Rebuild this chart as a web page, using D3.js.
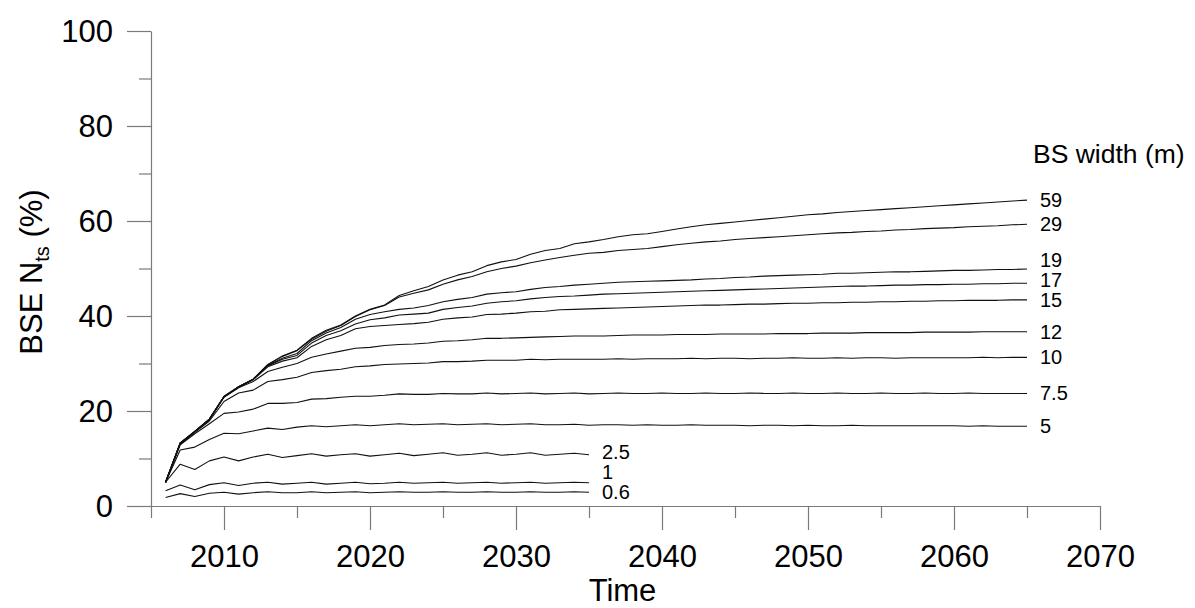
<!DOCTYPE html>
<html>
<head>
<meta charset="utf-8">
<script src="https://cdn.jsdelivr.net/npm/d3@7"></script>
<style>
  html, body { margin: 0; padding: 0; background: #fff; }
  svg { display: block; font-family: Arial, "Liberation Sans", sans-serif; }
</style>
</head>
<body>
<svg id="chart" width="1195" height="608"></svg>
<script>
// ---- data ----
const longYears = d3.range(2006, 2066);   // 2006..2065
const shortYears = d3.range(2006, 2036);  // 2006..2035

const s59 = [5.0, 13.3, 15.7, 18.3, 23.1, 25.1, 26.7, 29.8, 31.6, 32.8,
  35.3, 37.0, 38.1, 40.0, 41.4, 42.3, 44.3, 45.3, 46.2, 47.6,
  48.6, 49.3, 50.6, 51.4, 51.9, 53.0, 53.8, 54.2, 55.2, 55.6,
  56.1, 56.7, 57.1, 57.3, 57.8, 58.3, 58.8, 59.2, 59.5, 59.8,
  60.1, 60.4, 60.7, 61.0, 61.3, 61.5, 61.8, 62.0, 62.2, 62.4,
  62.6, 62.8, 63.0, 63.2, 63.4, 63.6, 63.8, 64.0, 64.2, 64.4];
const s29 = [5.0, 13.3, 15.6, 18.3, 23.0, 25.1, 26.7, 29.7, 31.5, 32.7,
  35.1, 36.8, 38.0, 39.9, 41.3, 42.2, 44.0, 44.8, 45.5, 46.7,
  47.6, 48.3, 49.3, 50.0, 50.5, 51.2, 51.8, 52.3, 52.8, 53.2,
  53.4, 53.8, 54.0, 54.2, 54.6, 55.0, 55.3, 55.6, 55.8, 56.1,
  56.3, 56.5, 56.7, 56.9, 57.1, 57.3, 57.5, 57.6, 57.8, 57.9,
  58.1, 58.2, 58.4, 58.5, 58.6, 58.8, 58.9, 59.0, 59.2, 59.3];
const s19 = [5.0, 13.2, 15.7, 18.3, 23.0, 25.1, 26.7, 29.6, 31.1, 32.1,
  34.8, 36.4, 37.6, 39.3, 40.3, 40.9, 41.4, 41.7, 42.2, 43.0,
  43.5, 43.9, 44.6, 44.9, 45.1, 45.6, 46.0, 46.2, 46.5, 46.7,
  46.9, 47.1, 47.2, 47.3, 47.4, 47.5, 47.6, 47.8, 47.9, 48.1,
  48.2, 48.4, 48.5, 48.6, 48.7, 48.8, 49.0, 49.0, 49.1, 49.2,
  49.3, 49.3, 49.4, 49.5, 49.6, 49.6, 49.7, 49.8, 49.8, 49.9];
const s17 = [5.0, 13.2, 15.7, 18.3, 23.0, 25.0, 26.7, 29.5, 30.9, 31.7,
  34.3, 35.9, 36.9, 38.3, 39.2, 39.6, 40.2, 40.4, 40.6, 41.4,
  41.8, 42.1, 42.7, 43.0, 43.2, 43.6, 43.9, 44.1, 44.2, 44.4,
  44.6, 44.7, 44.8, 44.9, 45.0, 45.1, 45.2, 45.3, 45.4, 45.5,
  45.6, 45.7, 45.8, 45.9, 46.0, 46.1, 46.2, 46.3, 46.3, 46.4,
  46.5, 46.5, 46.6, 46.6, 46.7, 46.7, 46.8, 46.8, 46.9, 46.9];
const s15 = [5.0, 13.2, 15.7, 18.2, 23.0, 25.0, 26.6, 29.3, 30.5, 31.2,
  33.6, 35.0, 35.9, 37.3, 37.8, 38.0, 38.2, 38.4, 38.7, 39.3,
  39.6, 39.8, 40.3, 40.4, 40.6, 40.9, 41.0, 41.3, 41.4, 41.5,
  41.6, 41.7, 41.8, 41.9, 42.0, 42.1, 42.2, 42.3, 42.3, 42.4,
  42.5, 42.5, 42.6, 42.7, 42.7, 42.8, 42.8, 42.9, 42.9, 43.0,
  43.0, 43.1, 43.1, 43.2, 43.2, 43.3, 43.3, 43.3, 43.4, 43.4];
const s12 = [5.0, 13.1, 15.6, 18.1, 22.9, 24.9, 26.2, 28.3, 29.2, 30.0,
  31.3, 32.0, 32.6, 33.2, 33.4, 33.8, 34.0, 34.1, 34.3, 34.7,
  34.8, 35.0, 35.3, 35.3, 35.4, 35.5, 35.6, 35.7, 35.8, 35.8,
  35.8, 35.9, 36.0, 36.0, 36.0, 36.1, 36.1, 36.1, 36.2, 36.2,
  36.2, 36.2, 36.3, 36.3, 36.3, 36.4, 36.4, 36.4, 36.5, 36.5,
  36.5, 36.5, 36.6, 36.6, 36.6, 36.6, 36.7, 36.7, 36.7, 36.7];
const s10 = [5.0, 13.0, 15.5, 17.9, 22.0, 23.8, 24.4, 26.2, 26.6, 27.1,
  28.1, 28.5, 28.8, 29.3, 29.5, 29.8, 29.9, 30.0, 30.1, 30.4,
  30.4, 30.5, 30.7, 30.7, 30.7, 30.9, 30.8, 30.9, 30.9, 30.9,
  30.9, 31.0, 30.9, 31.0, 31.0, 31.0, 31.1, 31.0, 31.1, 31.1,
  31.0, 31.1, 31.1, 31.2, 31.1, 31.1, 31.2, 31.1, 31.2, 31.2,
  31.1, 31.2, 31.2, 31.2, 31.2, 31.2, 31.3, 31.2, 31.3, 31.3];
const s7_5 = [5.0, 12.9, 15.2, 17.3, 19.5, 19.8, 20.4, 21.6, 21.6, 21.8,
  22.5, 22.6, 22.9, 23.1, 23.1, 23.3, 23.6, 23.5, 23.5, 23.7,
  23.6, 23.6, 23.8, 23.6, 23.7, 23.8, 23.6, 23.7, 23.8, 23.6,
  23.7, 23.8, 23.7, 23.7, 23.8, 23.7, 23.7, 23.8, 23.7, 23.7,
  23.8, 23.7, 23.7, 23.8, 23.7, 23.7, 23.8, 23.7, 23.7, 23.8,
  23.7, 23.7, 23.8, 23.7, 23.7, 23.8, 23.7, 23.7, 23.7, 23.7];
const s5 = [5.0, 11.8, 12.4, 14.0, 15.3, 15.2, 15.8, 16.4, 16.1, 16.6,
  16.9, 16.7, 16.9, 17.1, 16.9, 17.1, 17.3, 17.1, 17.2, 17.3,
  17.1, 17.2, 17.3, 17.1, 17.2, 17.3, 17.1, 17.1, 17.2, 17.0,
  17.1, 17.1, 17.0, 17.1, 17.0, 17.0, 17.1, 17.0, 17.0, 17.0,
  16.9, 17.0, 17.0, 16.9, 17.0, 16.9, 16.9, 17.0, 16.9, 16.9,
  16.9, 16.9, 16.9, 16.9, 16.9, 16.8, 16.9, 16.8, 16.8, 16.8];
const s2_5 = [5.0, 8.8, 7.7, 9.5, 10.3, 9.5, 10.3, 10.9, 10.2, 10.6,
  11.0, 10.5, 10.8, 11.0, 10.5, 10.8, 11.1, 10.6, 10.9, 11.2,
  10.7, 10.9, 11.2, 10.7, 10.9, 11.2, 10.7, 10.9, 11.1, 10.8];
const s1 = [3.2, 4.4, 3.4, 4.5, 4.9, 4.3, 4.8, 5.0, 4.6, 4.8,
  5.0, 4.6, 4.8, 5.0, 4.7, 4.8, 5.0, 4.8, 4.9, 5.0,
  4.8, 4.9, 5.0, 4.8, 4.9, 5.0, 4.8, 4.9, 5.0, 4.9];
const s0_6 = [1.8, 2.6, 2.0, 2.7, 2.9, 2.5, 2.8, 3.0, 2.8, 2.8,
  3.0, 2.8, 2.9, 3.0, 2.8, 2.9, 3.0, 2.9, 2.9, 3.0,
  2.9, 2.9, 3.0, 2.9, 2.9, 3.0, 2.9, 2.9, 3.0, 2.9];

const seriesLabels = ["59", "29", "19", "17", "15", "12", "10", "7.5", "5", "2.5", "1", "0.6"];
const seriesValues = [s59, s29, s19, s17, s15, s12, s10, s7_5, s5, s2_5, s1, s0_6];

const xMajorTicks = [2010, 2020, 2030, 2040, 2050, 2060, 2070];
const xMinorTicks = [2005, 2015, 2025, 2035, 2045, 2055, 2065];
const yMajorTicks = [0, 20, 40, 60, 80, 100];
const yMinorTicks = [10, 30, 50, 70, 90];
const xTitle = "Time";
const legendTitle = "BS width (m)";

// ---- drawing ----
const svg = d3.select("#chart");
const x = d3.scaleLinear().domain([2005, 2070]).range([151, 1100]);
const y = d3.scaleLinear().domain([0, 100]).range([506, 31]);
const axisColor = "#7a7a7a";

// x axis
const gx = svg.append("g").attr("transform", `translate(0,${y(0)})`);
gx.call(d3.axisBottom(x).tickValues(xMajorTicks).tickSize(24).tickSizeOuter(0).tickFormat(d3.format("d")));
const gxm = svg.append("g").attr("transform", `translate(0,${y(0)})`);
gxm.call(d3.axisBottom(x).tickValues(xMinorTicks).tickSize(12).tickSizeOuter(0).tickFormat(""));
gxm.select(".domain").remove();
gx.selectAll("text").attr("y", 61).attr("dy", 0).attr("font-size", 31).attr("fill", "#000");

// y axis
const gy = svg.append("g").attr("transform", `translate(${x(2005)},0)`);
gy.call(d3.axisLeft(y).tickValues(yMajorTicks).tickSize(24).tickPadding(14).tickSizeOuter(0));
const gym = svg.append("g").attr("transform", `translate(${x(2005)},0)`);
gym.call(d3.axisLeft(y).tickValues(yMinorTicks).tickSize(12).tickSizeOuter(0).tickFormat(""));
gym.select(".domain").remove();
gy.selectAll("text").attr("font-size", 31).attr("dy", "0.35em").attr("fill", "#000");

svg.selectAll(".domain, .tick line").attr("stroke", axisColor).attr("stroke-width", 1.2);

// lines
const line = d3.line().x(d => x(d[0])).y(d => y(d[1]));
const endPoints = [];
seriesValues.forEach((vals, i) => {
  const yrs = vals.length === longYears.length ? longYears : shortYears;
  const pts = vals.map((v, j) => [yrs[j], v]);
  svg.append("path")
    .attr("d", line(pts))
    .attr("fill", "none")
    .attr("stroke", "#111")
    .attr("stroke-width", 1.1)
    .attr("stroke-linejoin", "round");
  const last = pts[pts.length - 1];
  endPoints.push({ label: seriesLabels[i], x: x(last[0]) + 13, y: y(last[1]), group: yrs === longYears ? 0 : 1 });
});

// label collision avoidance (bottom-up), min spacing 20px
[0, 1].forEach(g => {
  const grp = endPoints.filter(p => p.group === g).sort((a, b) => b.y - a.y);
  for (let k = 1; k < grp.length; k++) {
    if (grp[k - 1].y - grp[k].y < 20) grp[k].y = grp[k - 1].y - 20;
  }
});

svg.selectAll("text.slabel").data(endPoints).enter().append("text")
  .attr("class", "slabel")
  .attr("x", d => d.x).attr("y", d => d.y)
  .attr("dy", "0.35em")
  .attr("font-size", 20)
  .text(d => d.label);

svg.append("text")
  .attr("x", 1033).attr("y", 163)
  .attr("font-size", 26.5)
  .text(legendTitle);

// axis titles
svg.append("text")
  .attr("x", (x(2005) + x(2070)) / 2 - 3).attr("y", 601)
  .attr("text-anchor", "middle")
  .attr("font-size", 31)
  .text(xTitle);

const yt = svg.append("text")
  .attr("transform", "translate(42,272) rotate(-90)")
  .attr("text-anchor", "middle")
  .attr("font-size", 31);
yt.append("tspan").text("BSE N");
yt.append("tspan").attr("font-size", 20).attr("dy", 7).text("ts");
yt.append("tspan").attr("dy", -7).text(" (%)");
</script>
</body>
</html>
